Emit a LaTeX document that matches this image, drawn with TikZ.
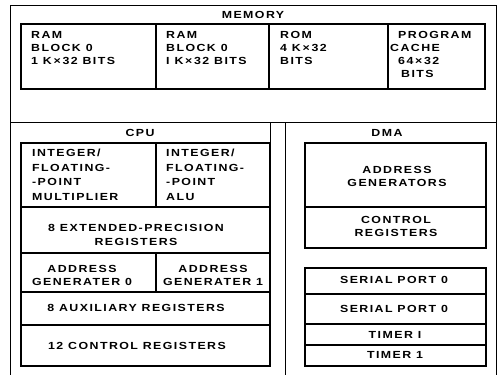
\documentclass[tikz,border=0pt]{standalone}
\usepackage{fontspec}
\newfontfamily\dfont{Liberation Sans}[FakeStretch=1.2,LetterSpace=14]
\begin{document}
\begin{tikzpicture}[x=1pt,y=-1pt]
\tikzset{
  sect/.style={line width=0.9pt},
  cell/.style={draw, line width=1.3pt, inner sep=0pt, outer sep=0pt},
  txt/.style={font=\dfont\bfseries\fontsize{10.3}{13}\selectfont, inner sep=0pt, align=center},
  ltxt/.style={font=\dfont\bfseries\fontsize{10.3}{13}\selectfont, inner sep=0pt, align=left, anchor=north west},
  ctxt/.style={font=\dfont\bfseries\fontsize{10.3}{14.5}\selectfont, inner sep=0pt, align=left, anchor=north west},
  ttl/.style={font=\dfont\bfseries\fontsize{10.3}{13}\selectfont, inner sep=0pt},
}
\newcommand\cellbox[5]{\node[cell, minimum width={#4pt-#2pt}, minimum height={#5pt-#3pt}] (#1) at ({(#2+#4)/2},{(#3+#5)/2}) {};}
\useasboundingbox (0,0) rectangle (498,375);
% section frames
\node[draw, sect, inner sep=0pt, outer sep=0pt, minimum width=486pt, minimum height=117pt] (mem) at (253,63.5) {};
\coordinate (cpuTL) at (10,122);
\coordinate (cpuBL) at (10,375);
\coordinate (cpuTR) at (270,122);
\coordinate (cpuBR) at (270,366);
\coordinate (dmaTL) at (285,122);
\coordinate (dmaBL) at (285,375);
\coordinate (dmaTR) at (496,122);
\coordinate (dmaBR) at (496,375);
\draw[sect] (cpuTL) -- (cpuBL);
\draw[sect] (cpuTR) -- (cpuBR);
\draw[sect] (dmaTL) -- (dmaBL);
\draw[sect] (dmaTR) -- (dmaBR);
% titles
\node[ttl] (memt) at (253,15) {MEMORY};
\node[ttl] (cput) at (140,133) {CPU};
\node[ttl] (dmat) at (387,133) {DMA};
% memory cells
\cellbox{ram0}{21}{24}{156}{89}
\cellbox{ram1}{156}{24}{269}{89}
\cellbox{rom}{269}{24}{388}{89}
\cellbox{cache}{388}{24}{485}{89}
\node[ltxt] (ram0t) at (31,31) {RAM\\BLOCK 0\\1 K\,×\,32 BITS};
\node[ltxt] (ram1t) at (166,31) {RAM\\BLOCK 0\\I K\,×\,32 BITS};
\node[ltxt] (romt) at (280,31) {ROM\\4 K\,×\,32\\BITS};
\node[ltxt] (cachet) at (390,31) {\hspace*{8pt}PROGRAM\\CACHE\\\hspace*{8pt}64\,×\,32\\\hspace*{11pt}BITS};
% cpu cells
\cellbox{mult}{21}{143}{156}{207}
\cellbox{alu}{156}{143}{270}{207}
\cellbox{ext}{21}{207}{270}{253}
\cellbox{ag0}{21}{253}{156}{292}
\cellbox{ag1}{156}{253}{270}{292}
\cellbox{aux}{21}{292}{270}{325}
\cellbox{ctl}{21}{325}{270}{366}
\node[ctxt] (multt) at (32,149) {INTEGER/\\FLOATING-\\-POINT\\MULTIPLIER};
\node[ctxt] (alut) at (166,149) {INTEGER/\\FLOATING-\\-POINT\\ALU};
\node[txt, font=\dfont\bfseries\fontsize{10.3}{14}\selectfont] (extt) at (136,235) {8 EXTENDED-PRECISION\\REGISTERS};
\node[txt] (ag0t) at (82,275) {ADDRESS\\GENERATER 0};
\node[txt] (ag1t) at (213,275) {ADDRESS\\GENERATER 1};
\node[txt] (auxt) at (136,308) {8 AUXILIARY REGISTERS};
\node[txt] (ctlt) at (137,346) {12 CONTROL REGISTERS};
% dma cells
\cellbox{dag}{305}{143}{486}{207}
\cellbox{dctl}{305}{207}{486}{248}
\cellbox{sp0}{305}{268}{486}{294}
\cellbox{sp1}{305}{294}{486}{324}
\cellbox{tm0}{305}{324}{486}{345}
\cellbox{tm1}{305}{345}{486}{366}
\node[txt] (dagt) at (397,176) {ADDRESS\\GENERATORS};
\node[txt] (dctlt) at (396,226) {CONTROL\\REGISTERS};
\node[txt] (sp0t) at (394,280) {SERIAL PORT 0};
\node[txt] (sp1t) at (394,309) {SERIAL PORT 0};
\node[txt] (tm0t) at (395,335) {TIMER I};
\node[txt] (tm1t) at (395,355) {TIMER 1};
\end{tikzpicture}
\end{document}
